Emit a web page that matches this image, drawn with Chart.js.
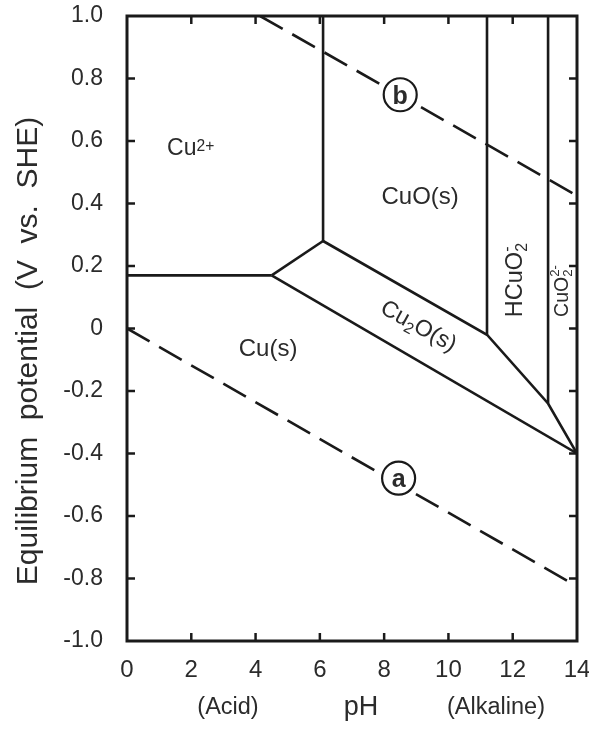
<!DOCTYPE html>
<html><head><meta charset="utf-8">
<script src="https://cdn.jsdelivr.net/npm/chart.js@4/dist/chart.umd.min.js"></script>
<style>html,body{margin:0;padding:0;background:#fff;}#wrap{width:589px;height:731px;}</style>
</head><body>
<div id="wrap"><canvas id="c" width="589" height="731"></canvas></div>
<script>
// ---- tick labels ----
const xTickLabels = ['0','2','4','6','8','10','12','14'];
const yTickLabels = ['-1.0','-0.8','-0.6','-0.4','-0.2','0','0.2','0.4','0.6','0.8','1.0'];

// ---- stability boundaries (pH, E in V vs SHE) ----
const cuIonCu_pH    = [0, 4.5];                 const cuIonCu_E    = [0.17, 0.17];
const cuIonCu2O_pH  = [4.5, 6.1];               const cuIonCu2O_E  = [0.17, 0.28];
const cuIonCuO_pH   = [6.1, 6.1];               const cuIonCuO_E   = [0.28, 1.0];
const cu2oUpper_pH  = [6.1, 11.2, 13.1, 14.0];  const cu2oUpper_E  = [0.28, -0.02, -0.24, -0.40];
const cuCu2O_pH     = [4.5, 14.0];              const cuCu2O_E     = [0.17, -0.40];
const cuoHcuo2_pH   = [11.2, 11.2];             const cuoHcuo2_E   = [-0.02, 1.0];
const hcuo2Cuo2_pH  = [13.1, 13.1];             const hcuo2Cuo2_E  = [-0.24, 1.0];

// ---- water stability lines ----
const waterA_pH = [0, 14];      const waterA_E = [0.0, -0.825];
const waterB_pH = [4.14, 14];   const waterB_E = [1.0, 0.425];

// ---- circled line markers ----
const markerNames = ['b', 'a'];
const marker_pH   = [8.5, 8.45];
const marker_E    = [0.748, -0.479];

// ---- region labels ----
const regionNames = ['Cu^{2+}', 'CuO(s)', 'Cu(s)', 'Cu_{2}O(s)', 'HCuO_{2}^{-}', 'CuO_{2}^{2-}'];
const region_pH   = [1.98, 9.12, 4.39, 9.09, 12.04, 13.5];
const region_E    = [0.581, 0.427, -0.059, 0.011, 0.155, 0.12];

// ---- styles (not data) ----
const regionStyle = [
  {size:23, rot:0}, {size:24, rot:0}, {size:24, rot:0},
  {size:23, rot:29}, {size:23.5, rot:-90}, {size:19.5, rot:-90}
];
const LINE = '#1a1a1a', TEXT = '#2b2b2b', FONT = '"Liberation Sans", Arial, sans-serif';

const pts = (xs, ys) => xs.map((v, i) => ({x: v, y: ys[i]}));
const solid = (xs, ys) => ({data: pts(xs, ys), showLine: true, pointRadius: 0, borderColor: LINE, borderWidth: 2.6, fill: false});
const dashed = (xs, ys) => Object.assign(solid(xs, ys), {borderDash: [26, 11]});

function parseRich(s) {
  const toks = s.match(/(_\{[^}]*\}|\^\{[^}]*\}|[^_^]+)/g) || [];
  const segs = [];
  toks.forEach(t => {
    if (t[0] === '_') segs.push({t: t.slice(2, -1), k: 'sub'});
    else if (t[0] === '^') {
      const prev = segs[segs.length - 1];
      if (prev && prev.k === 'sub') { prev.k = 'stack'; prev.sup = t.slice(2, -1); }
      else segs.push({t: t.slice(2, -1), k: 'sup'});
    } else segs.push({t: t, k: 'n'});
  });
  return segs;
}
function drawRich(ctx, s, size) {
  const segs = parseRich(s);
  const small = size * 0.68;
  const fN = size + 'px ' + FONT, fS = small + 'px ' + FONT;
  let total = 0;
  segs.forEach(g => {
    if (g.k === 'n') { ctx.font = fN; g.w = ctx.measureText(g.t).width; }
    else { ctx.font = fS; g.w = Math.max(ctx.measureText(g.t).width, g.sup ? ctx.measureText(g.sup).width : 0); }
    total += g.w;
  });
  let x = -total / 2;
  const base = size * 0.358;
  ctx.textAlign = 'left'; ctx.textBaseline = 'alphabetic';
  segs.forEach(g => {
    if (g.k === 'n') { ctx.font = fN; ctx.fillText(g.t, x, base); }
    else {
      ctx.font = fS;
      if (g.k === 'sub') ctx.fillText(g.t, x, base + size * 0.2);
      else if (g.k === 'sup') ctx.fillText(g.t, x, base - size * 0.2);
      else { ctx.fillText(g.t, x, base + size * 0.2); ctx.fillText(g.sup, x, base - size * 0.45); }
    }
    x += g.w;
  });
}

const decor = {
  id: 'decor',
  afterDatasetsDraw(chart) {
    const {ctx, chartArea: a, scales: {x, y}} = chart;
    ctx.save();
    // frame
    ctx.strokeStyle = LINE; ctx.lineWidth = 3;
    ctx.strokeRect(a.left, a.top, a.right - a.left, a.bottom - a.top);
    // inward ticks on all sides
    ctx.lineWidth = 2.5;
    const tl = 8;
    const seg = (x1, y1, x2, y2) => { ctx.beginPath(); ctx.moveTo(x1, y1); ctx.lineTo(x2, y2); ctx.stroke(); };
    x.ticks.forEach(t => {
      const p = x.getPixelForValue(t.value);
      if (p <= a.left + 2 || p >= a.right - 2) return;
      seg(p, a.bottom, p, a.bottom - tl); seg(p, a.top, p, a.top + tl);
    });
    y.ticks.forEach(t => {
      const p = y.getPixelForValue(t.value);
      if (p <= a.top + 2 || p >= a.bottom - 2) return;
      seg(a.left, p, a.left + tl, p); seg(a.right, p, a.right - tl, p);
    });
    // region labels
    ctx.fillStyle = TEXT;
    regionNames.forEach((n, i) => {
      const st = regionStyle[i];
      ctx.save();
      ctx.translate(x.getPixelForValue(region_pH[i]), y.getPixelForValue(region_E[i]));
      ctx.rotate(st.rot * Math.PI / 180);
      drawRich(ctx, n, st.size);
      ctx.restore();
    });
    // circled marker letters
    const meta = chart.getDatasetMeta(0);
    ctx.font = 'bold 25px ' + FONT; ctx.textAlign = 'center'; ctx.textBaseline = 'alphabetic';
    markerNames.forEach((m, i) => {
      const el = meta.data[i];
      ctx.fillText(m, el.x, el.y + 9);
    });
    // axis titles
    ctx.save();
    ctx.translate(37, 351); ctx.rotate(-Math.PI / 2);
    ctx.font = '30px ' + FONT; ctx.textAlign = 'center'; ctx.textBaseline = 'alphabetic';
    ctx.fillText('Equilibrium  potential  (V  vs.  SHE)', 0, 0);
    ctx.restore();
    ctx.textAlign = 'center'; ctx.textBaseline = 'alphabetic';
    ctx.font = '27px ' + FONT; ctx.fillText('pH', 361, 715);
    ctx.font = '23.5px ' + FONT; ctx.fillText('(Acid)', 228, 714);
    ctx.font = '23.5px ' + FONT; ctx.fillText('(Alkaline)', 496, 714);
    ctx.restore();
  }
};

const noPad = s => { s.paddingTop = 0; s.paddingBottom = 0; s.paddingLeft = 0; s.paddingRight = 0; };

new Chart(document.getElementById('c'), {
  type: 'scatter',
  data: {
    datasets: [
      {data: pts(marker_pH, marker_E), showLine: false, pointRadius: 16.5, pointHoverRadius: 16.5,
       pointBackgroundColor: '#fff', pointBorderColor: LINE, pointBorderWidth: 2.2},
      solid(cuIonCu_pH, cuIonCu_E),
      solid(cuIonCu2O_pH, cuIonCu2O_E),
      solid(cuIonCuO_pH, cuIonCuO_E),
      solid(cu2oUpper_pH, cu2oUpper_E),
      solid(cuCu2O_pH, cuCu2O_E),
      solid(cuoHcuo2_pH, cuoHcuo2_E),
      solid(hcuo2Cuo2_pH, hcuo2Cuo2_E),
      dashed(waterA_pH, waterA_E),
      dashed(waterB_pH, waterB_E)
    ]
  },
  options: {
    responsive: false, animation: false, devicePixelRatio: 1, events: [],
    layout: {autoPadding: false, padding: {left: 0, right: 12, top: 16, bottom: 0}},
    plugins: {legend: {display: false}, tooltip: {enabled: false}},
    scales: {
      x: {type: 'linear', min: 0, max: 14,
          afterFit: s => { s.height = 90; noPad(s); },
          grid: {display: false, drawTicks: false}, border: {display: false},
          ticks: {stepSize: 2, padding: 15, color: TEXT, font: {family: FONT, size: 24},
                  maxRotation: 0, callback: (v, i) => xTickLabels[i]}},
      y: {type: 'linear', min: -1, max: 1,
          afterFit: s => { s.width = 127; noPad(s); },
          grid: {display: false, drawTicks: false}, border: {display: false},
          ticks: {stepSize: 0.2, padding: 24, color: TEXT, font: {family: FONT, size: 23},
                  callback: (v, i) => yTickLabels[i]}}
    }
  },
  plugins: [decor]
});
</script>
</body></html>
